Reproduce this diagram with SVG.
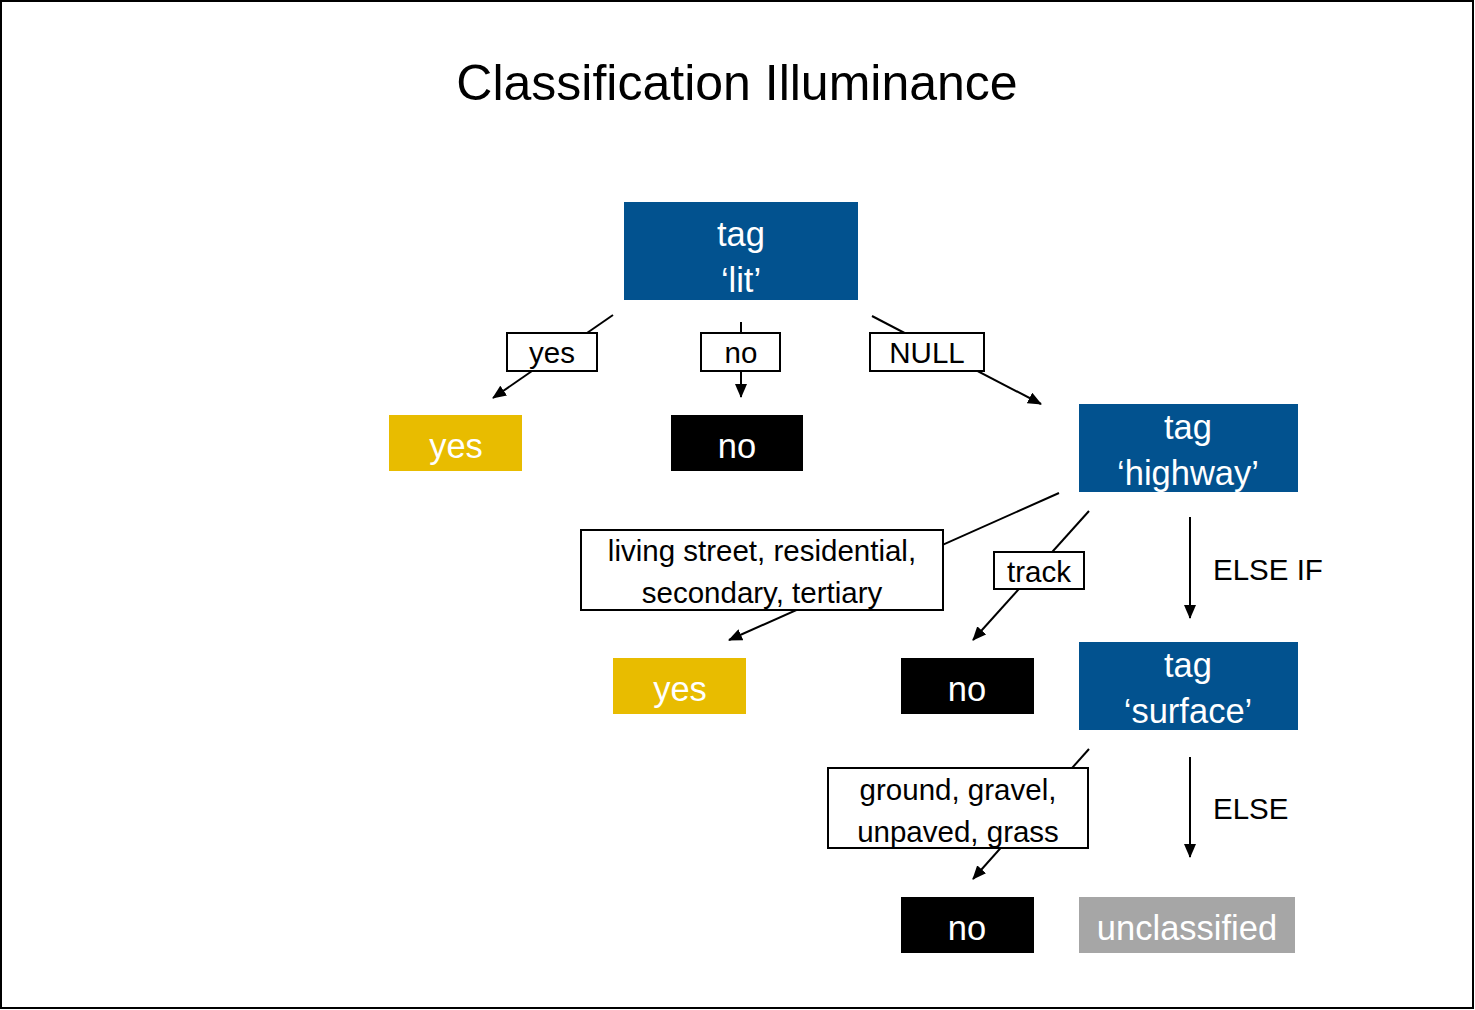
<svg xmlns="http://www.w3.org/2000/svg" width="1475" height="1010" viewBox="0 0 1475 1010">
<defs>
<marker id="arr" markerUnits="userSpaceOnUse" markerWidth="14" markerHeight="12" refX="13" refY="6" orient="auto">
<path d="M0,0 L14,6 L0,12 Z" fill="#000"/>
</marker>
<style>
.t{font-family:"Liberation Sans",Arial,sans-serif;text-anchor:middle}
.n{font-size:34.5px;fill:#fff}
.l{font-size:29.5px;fill:#000}
.blue{fill:#02528F}
.gold{fill:#E8BC00}
.blk{fill:#000}
.gray{fill:#A6A6A6}
.lb{fill:#fff;stroke:#000;stroke-width:2}
.c{stroke:#000;stroke-width:2;fill:none;marker-end:url(#arr)}
</style>
</defs>
<rect x="1" y="1" width="1472" height="1007" fill="#fff" stroke="#000" stroke-width="2"/>
<text class="t" x="737" y="100" font-size="50">Classification Illuminance</text>

<g id="connectors">
<line class="c" x1="613" y1="315" x2="493" y2="398"/>
<line class="c" x1="741" y1="322" x2="741" y2="397"/>
<line class="c" x1="872" y1="316" x2="1041" y2="404"/>
<line class="c" x1="1059" y1="493" x2="729" y2="640"/>
<line class="c" x1="1089" y1="511" x2="973" y2="640"/>
<line class="c" x1="1190" y1="517" x2="1190" y2="618"/>
<line class="c" x1="1089" y1="749" x2="973" y2="879"/>
<line class="c" x1="1190" y1="757" x2="1190" y2="857"/>
<g id="lbl-yes"><rect class="lb" x="507" y="333" width="90" height="38"/><text class="t l" x="552" y="363">yes</text></g>
<g id="lbl-no"><rect class="lb" x="701" y="333" width="79" height="38"/><text class="t l" x="741" y="363">no</text></g>
<g id="lbl-null"><rect class="lb" x="870" y="333" width="114" height="38"/><text class="t l" x="927" y="363">NULL</text></g>
<g id="lbl-living"><rect class="lb" x="581" y="530" width="362" height="80"/><text class="t l" x="762" y="561">living street, residential,</text><text class="t l" x="762" y="603">secondary, tertiary</text></g>
<g id="lbl-track"><rect class="lb" x="994" y="552" width="90" height="37"/><text class="t l" x="1039" y="582">track</text></g>
<text class="l" x="1213" y="580" font-family="Liberation Sans, Arial, sans-serif">ELSE IF</text>
<g id="lbl-ground"><rect class="lb" x="828" y="768" width="260" height="80"/><text class="t l" x="958" y="800">ground, gravel,</text><text class="t l" x="958" y="842">unpaved, grass</text></g>
<text class="l" x="1213" y="819" font-family="Liberation Sans, Arial, sans-serif">ELSE</text>
</g>

<g id="tag-lit"><rect class="blue" x="624" y="202" width="234" height="98"/><text class="t n" x="741" y="246">tag</text><text class="t n" x="741" y="292">‘lit’</text></g>
<g id="yes1"><rect class="gold" x="389" y="415" width="133" height="56"/><text class="t n" x="456" y="458">yes</text></g>
<g id="no1"><rect class="blk" x="671" y="415" width="132" height="56"/><text class="t n" x="737" y="458">no</text></g>
<g id="tag-highway"><rect class="blue" x="1079" y="404" width="219" height="88"/><text class="t n" x="1188" y="439">tag</text><text class="t n" x="1188" y="485">‘highway’</text></g>
<g id="yes2"><rect class="gold" x="613" y="658" width="133" height="56"/><text class="t n" x="680" y="701">yes</text></g>
<g id="no2"><rect class="blk" x="901" y="658" width="133" height="56"/><text class="t n" x="967" y="701">no</text></g>
<g id="tag-surface"><rect class="blue" x="1079" y="642" width="219" height="88"/><text class="t n" x="1188" y="677">tag</text><text class="t n" x="1188" y="723">‘surface’</text></g>
<g id="no3"><rect class="blk" x="901" y="897" width="133" height="56"/><text class="t n" x="967" y="940">no</text></g>
<g id="unclassified"><rect class="gray" x="1079" y="897" width="216" height="56"/><text class="t n" x="1187" y="940">unclassified</text></g>
</svg>
